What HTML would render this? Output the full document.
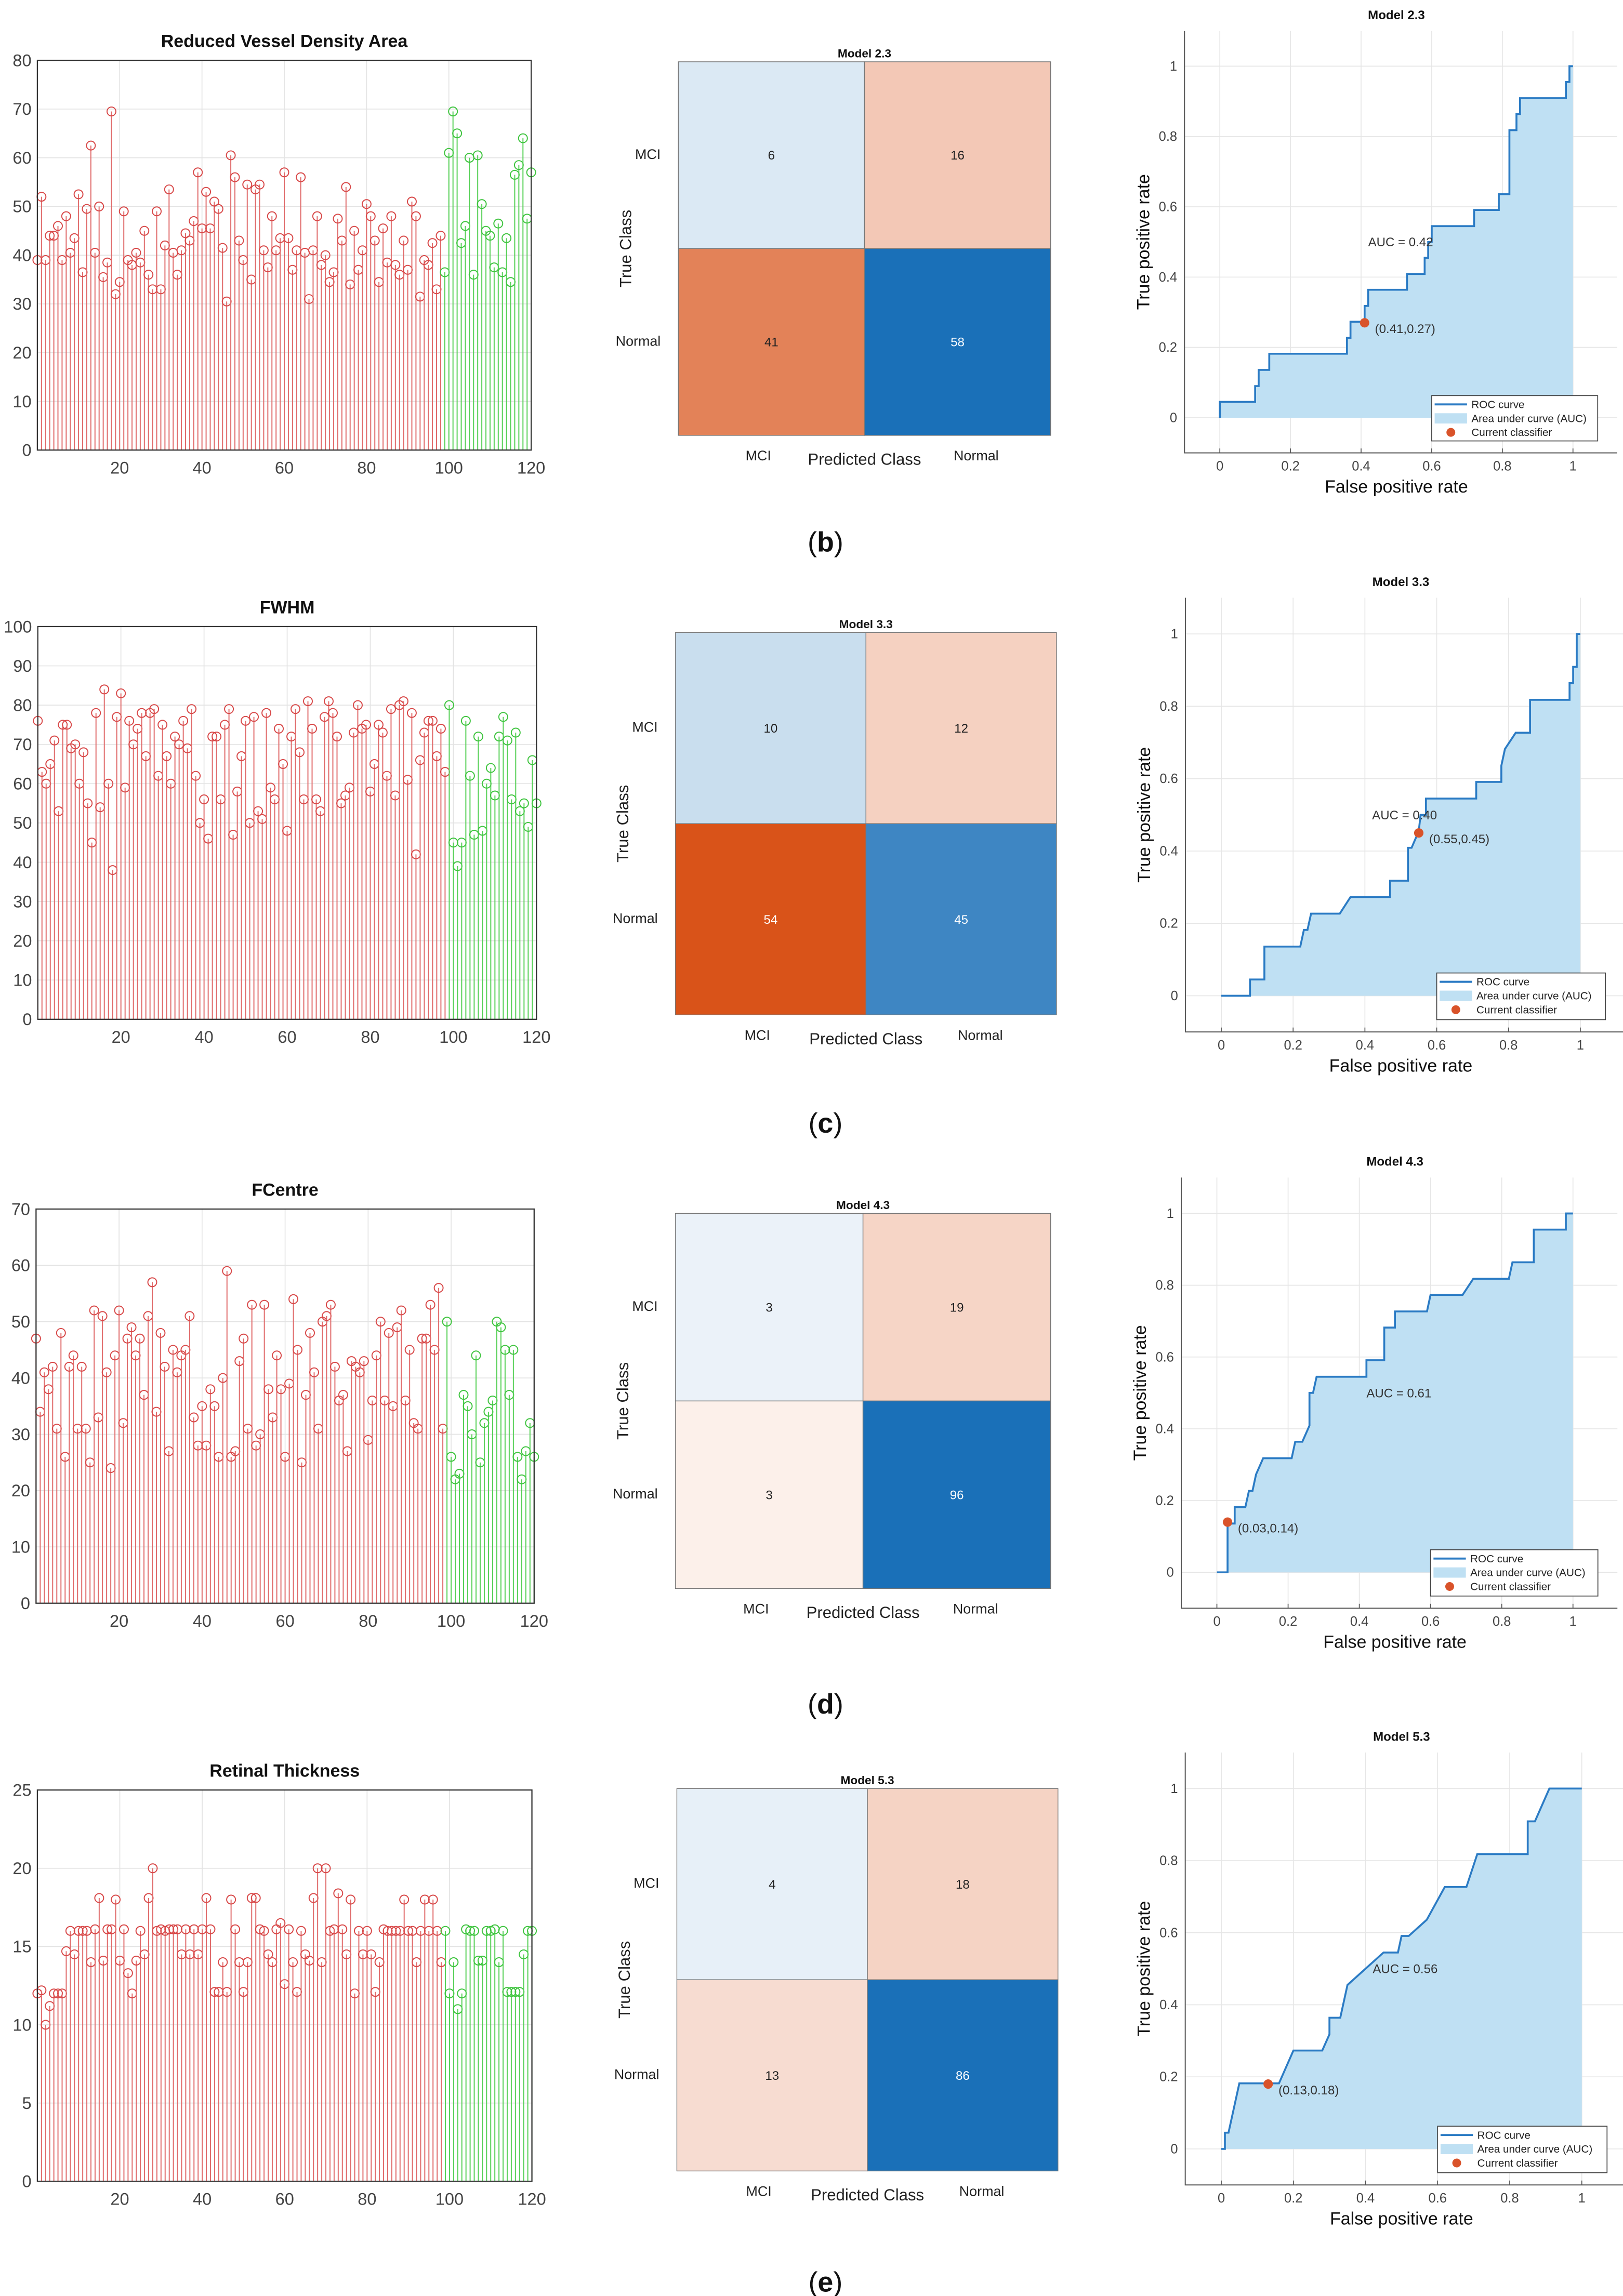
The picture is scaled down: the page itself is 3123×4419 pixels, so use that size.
<!DOCTYPE html>
<html><head><meta charset="utf-8"><title>Stem plots, confusion matrices and ROC curves</title>
<style>
html,body{margin:0;padding:0;background:#fff;}
svg{display:block;}
text{font-family:"Liberation Sans",Arial,sans-serif;}
</style></head>
<body>
<svg id="fig" xmlns="http://www.w3.org/2000/svg" width="3123" height="4419" viewBox="0 0 1103 1561" preserveAspectRatio="none">
<rect x="0" y="0" width="1103" height="1561" fill="#ffffff"/>
</svg>
<script>
// ---------- DATA ----------
const stemTitles = ["Reduced Vessel Density Area","FWHM","FCentre","Retinal Thickness"];
const stemYMax = [80,100,70,25];
const stemYStep = [10,10,10,5];
const stemXTicks = [20,40,60,80,100,120];
const redCount = 99;
const vesselValues = [39,52,39,44,44,46,39,48,40.5,43.5,52.5,36.5,49.5,62.5,40.5,50,35.5,38.5,69.5,32,34.5,49,39,38,40.5,38.5,45,36,33,49,33,42,53.5,40.5,36,41,44.5,43,47,57,45.5,53,45.5,51,49.5,41.5,30.5,60.5,56,43,39,54.5,35,53.5,54.5,41,37.5,48,41,43.5,57,43.5,37,41,56,40.5,31,41,48,38,40,34.5,36.5,47.5,43,54,34,45,37,41,50.5,48,43,34.5,45.5,38.5,48,38,36,43,37,51,48,31.5,39,38,42.5,33,44,
36.5,61,69.5,65,42.5,46,60,36,60.5,50.5,45,44,37.5,46.5,36.5,43.5,34.5,56.5,58.5,64,47.5,57];
const fwhmValues = [76,63,60,65,71,53,75,75,69,70,60,68,55,45,78,54,84,60,38,77,83,59,76,70,74,78,67,78,79,62,75,67,60,72,70,76,69,79,62,50,56,46,72,72,56,75,79,47,58,67,76,50,77,53,51,78,59,56,74,65,48,72,79,68,56,81,74,56,53,77,81,78,72,55,57,59,73,80,74,75,58,65,75,73,62,79,57,80,81,61,78,42,66,73,76,76,67,74,63,
80,45,39,45,76,62,47,72,48,60,64,57,72,77,71,56,73,53,55,49,66,55];
const fcentreValues = [47,34,41,38,42,31,48,26,42,44,31,42,31,25,52,33,51,41,24,44,52,32,47,49,44,47,37,51,57,34,48,42,27,45,41,44,45,51,33,28,35,28,38,35,26,40,59,26,27,43,47,31,53,28,30,53,38,33,44,38,26,39,54,45,25,37,48,41,31,50,51,53,42,36,37,27,43,42,41,43,29,36,44,50,36,48,35,49,52,36,45,32,31,47,47,53,45,56,31,
50,26,22,23,37,35,30,44,25,32,34,36,50,49,45,37,45,26,22,27,32,26];
const thicknessValues = [12,12.2,10,11.2,12,12,12,14.7,16,14.5,16,16,16,14,16.1,18.1,14.1,16.1,16.1,18,14.1,16.1,13.3,12,14.1,16,14.5,18.1,20,16,16.1,16,16.1,16.1,16.1,14.5,16.1,14.5,16.1,14.5,16.1,18.1,16.1,12.1,12.1,14,12.1,18,16.1,14,12.1,14,18.1,18.1,16.1,16,14.5,14,16.1,16.5,12.6,16.1,14,12.1,16,14.5,14.1,18.1,20,14,20,16,16.1,18.4,16.1,14.5,18,12,16,14.5,16,14.5,12.1,14,16.1,16,16,16,16,18,16,16,14,16,18,16,18,16,14,
16,12,14,11,12,16.1,16,16,14.1,14.1,16,16,16.1,14,16,12.1,12.1,12.1,12.1,14.5,16,16];

const cmTitles = ["Model 2.3","Model 3.3","Model 4.3","Model 5.3"];
const cmClassNames = ["MCI","Normal"];
const cmCounts = [[6,16,41,58],[10,12,54,45],[3,19,3,96],[4,18,13,86]];

const rocTitles = ["Model 2.3","Model 3.3","Model 4.3","Model 5.3"];
const rocAuc = ["0.42","0.40","0.61","0.56"];
const rocTicks = [0,0.2,0.4,0.6,0.8,1];
const rocFpr1 = [0,0,0.1,0.1,0.11,0.11,0.14,0.14,0.36,0.36,0.37,0.37,0.41,0.41,0.42,0.42,0.53,0.53,0.58,0.58,0.59,0.59,0.6,0.6,0.72,0.72,0.79,0.79,0.82,0.82,0.84,0.84,0.85,0.85,0.98,0.98,0.99,0.99,1];
const rocTpr1 = [0,0.045,0.045,0.09,0.09,0.136,0.136,0.182,0.182,0.227,0.227,0.273,0.273,0.318,0.318,0.364,0.364,0.409,0.409,0.455,0.455,0.5,0.5,0.545,0.545,0.591,0.591,0.636,0.636,0.818,0.818,0.864,0.864,0.909,0.909,0.955,0.955,1,1];
const rocFpr2 = [0,0.08,0.08,0.12,0.12,0.22,0.23,0.24,0.25,0.33,0.36,0.47,0.47,0.52,0.52,0.53,0.55,0.555,0.57,0.57,0.71,0.71,0.78,0.78,0.79,0.82,0.86,0.86,0.97,0.97,0.98,0.98,0.99,0.99,1];
const rocTpr2 = [0,0,0.045,0.045,0.136,0.136,0.182,0.182,0.227,0.227,0.273,0.273,0.318,0.318,0.409,0.409,0.455,0.5,0.5,0.545,0.545,0.591,0.591,0.636,0.682,0.727,0.727,0.818,0.818,0.864,0.864,0.909,0.909,1,1];
const rocFpr3 = [0,0.03,0.03,0.05,0.05,0.08,0.09,0.1,0.11,0.13,0.21,0.22,0.24,0.26,0.26,0.27,0.28,0.42,0.42,0.47,0.47,0.5,0.5,0.59,0.6,0.69,0.72,0.82,0.83,0.89,0.89,0.98,0.98,1];
const rocTpr3 = [0,0,0.136,0.136,0.182,0.182,0.227,0.227,0.273,0.318,0.318,0.364,0.364,0.409,0.5,0.5,0.545,0.545,0.591,0.591,0.682,0.682,0.727,0.727,0.773,0.773,0.818,0.818,0.864,0.864,0.955,0.955,1,1];
const rocFpr4 = [0,0.01,0.01,0.02,0.05,0.16,0.2,0.28,0.3,0.3,0.33,0.35,0.4,0.45,0.49,0.5,0.52,0.57,0.62,0.68,0.71,0.85,0.85,0.87,0.91,1];
const rocTpr4 = [0,0,0.045,0.045,0.182,0.182,0.273,0.273,0.318,0.364,0.364,0.455,0.5,0.545,0.545,0.591,0.591,0.636,0.727,0.727,0.818,0.818,0.909,0.909,1,1];
const rocOpX = [0.41,0.55,0.03,0.13];
const rocOpY = [0.27,0.45,0.14,0.18];
const panelLetters = ["b","c","d","e"];

// ---------- LAYOUT (pixel geometry, not data) ----------
const stemBox = [[25.4,361,41,306],[25.7,364.6,426,693],[24.5,363,822,1090],[25.4,361.5,1217,1483]];
const cmBox = [[461,714,42,296],[459,718,430,690],[459,714,825,1080],[460,719,1216,1476]];
const rocBox = [[829,1069,284,45],[830,1074,677,431],[827,1069,1069,825],[830,1075,1461,1216]];
const letterY = [375,770,1165,1558];

const NS="http://www.w3.org/2000/svg";
const svg=document.getElementById('fig');
function mk(tag,attrs,parent,txt){const e=document.createElementNS(NS,tag);for(const k in attrs)e.setAttribute(k,attrs[k]);if(txt!==undefined)e.textContent=txt;(parent||svg).appendChild(e);return e;}

// ---------- STEM PLOTS ----------
const stemSeries=[vesselValues,fwhmValues,fcentreValues,thicknessValues];
stemSeries.forEach((vals,p)=>{
  const [L,R,T,B]=stemBox[p];
  const ymax=stemYMax[p], n=vals.length;
  const xs=i=>L+i*(R-L)/120;
  const ys=v=>B-(v/ymax)*(B-T);
  const g=mk('g',{});
  
  
  // grid
  for(let v=0;v<=ymax;v+=stemYStep[p]){
    const gl=mk('line',{x1:L,x2:R,y1:ys(v),y2:ys(v),stroke:'#e3e3e3','stroke-width':0.6},g);
    
    
    const t=mk('text',{x:L-4,y:ys(v)+4,'font-size':11.5,'text-anchor':'end',fill:'#444'},g,String(v));
    
    
  }
  stemXTicks.forEach(v=>{
    const gl=mk('line',{x1:xs(v),x2:xs(v),y1:T,y2:B,stroke:'#e3e3e3','stroke-width':0.6},g);
    
    
    const t=mk('text',{x:xs(v),y:B+16,'font-size':11.5,'text-anchor':'middle',fill:'#444'},g,String(v));
    
    
  });
  // stems
  for(let i=0;i<n;i++){
    const red=i<redCount;
    const col=red?'#e06a6a':'#55d055';
    const ln=mk('line',{x1:xs(i),x2:xs(i),y1:B,y2:ys(vals[i]),stroke:col,'stroke-width':0.7},g);
    
    
    const c=mk('circle',{cx:xs(i),cy:ys(vals[i]),r:3,fill:'none',stroke:red?'#d84848':'#3ec43e','stroke-width':0.7},g);
    
    
  }
  const bx=mk('rect',{x:L,y:T,width:R-L,height:B-T,fill:'none',stroke:'#333','stroke-width':0.8},g);
  
  
  const tt=mk('text',{x:(L+R)/2,y:T-9,'font-size':12,'font-weight':'bold','text-anchor':'middle',fill:'#111'},g,stemTitles[p]);
  
  
});

// ---------- CONFUSION MATRICES ----------
function cellColor(v,max,diag){
  const f=0.06+0.94*(v/max);
  const base=diag?[26,112,184]:[217,83,25];
  const c=base.map(b=>Math.round(255-(255-b)*f));
  return {fill:'rgb('+c.join(',')+')',light:f>0.8};
}
cmCounts.forEach((cnt,p)=>{
  const [L,R,T,B]=cmBox[p];
  const g=mk('g',{});
  
  
  const max=Math.max(...cnt);
  const w=(R-L)/2,h=(B-T)/2;
  cnt.forEach((v,k)=>{
    const r=Math.floor(k/2),c=k%2;
    const col=cellColor(v,max,r===c);
    const rc=mk('rect',{x:L+c*w,y:T+r*h,width:w,height:h,fill:col.fill,stroke:'#777','stroke-width':0.5},g);
    
    
    const t=mk('text',{x:L+c*w+w/2,y:T+r*h+h/2+3,'font-size':8.5,'text-anchor':'middle',fill:col.light?'#fff':'#222'},g,String(v));
    
    
  });
  const ti=mk('text',{x:(L+R)/2,y:T-3,'font-size':8,'font-weight':'bold','text-anchor':'middle',fill:'#111'},g,cmTitles[p]);
  
  
  cmClassNames.forEach((nm,k)=>{
    const a=mk('text',{x:L-12,y:T+k*h+h*0.52,'font-size':9.5,'text-anchor':'end',fill:'#222'},g,nm);
    
    
    const b=mk('text',{x:k===0?L+w*0.43:L+w*1.6,y:B+17,'font-size':9.5,'text-anchor':'middle',fill:'#222'},g,nm);
    
    
  });
  const yl=mk('text',{x:0,y:0,'font-size':11,'text-anchor':'middle',fill:'#222',transform:'translate('+(L-32)+','+((T+B)/2)+') rotate(-90)'},g,'True Class');
  
  
  const xl=mk('text',{x:(L+R)/2,y:B+20,'font-size':11,'text-anchor':'middle',fill:'#222'},g,'Predicted Class');
  
  
});

// ---------- ROC CURVES ----------
const rocF=[rocFpr1,rocFpr2,rocFpr3,rocFpr4], rocT=[rocTpr1,rocTpr2,rocTpr3,rocTpr4];
rocF.forEach((fpr,p)=>{
  const tpr=rocT[p];
  const [x0,x1,y0,y1]=rocBox[p];
  const X=v=>x0+v*(x1-x0), Y=v=>y0-v*(y0-y1);
  const g=mk('g',{});
  
  
  const AL=X(-0.1),AR=X(1.1)+6,AB=Y(-0.1),AT=Y(1.1);
  rocTicks.forEach(v=>{
    const a=mk('line',{x1:AL,x2:AR,y1:Y(v),y2:Y(v),stroke:'#e6e6e6','stroke-width':0.6},g);
    
    
    const b=mk('line',{x1:X(v),x2:X(v),y1:AT,y2:AB,stroke:'#e6e6e6','stroke-width':0.6},g);
    
    
    const tk=mk('line',{x1:X(v),x2:X(v),y1:AB,y2:AB-3,stroke:'#555','stroke-width':0.6},g);
    
    
    const lab=String(v);
    const t1=mk('text',{x:X(v),y:AB+12,'font-size':9,'text-anchor':'middle',fill:'#444'},g,lab);
    
    
    const t2=mk('text',{x:AL-5,y:Y(v)+3,'font-size':9,'text-anchor':'end',fill:'#444'},g,lab);
    
    
  });
  let pts=fpr.map((f,i)=>X(f)+','+Y(tpr[i])).join(' ');
  const area=mk('polygon',{points:pts+' '+X(1)+','+Y(0)+' '+X(0)+','+Y(0),fill:'#bfe0f3',stroke:'none'},g);
  
  
  const line=mk('polyline',{points:pts,fill:'none',stroke:'#2b7bc4','stroke-width':1.3},g);
  
  
  const ax=mk('path',{d:'M'+AL+' '+AT+' V'+AB+' H'+AR,fill:'none',stroke:'#555','stroke-width':0.7},g);
  
  
  const op=mk('circle',{cx:X(rocOpX[p]),cy:Y(rocOpY[p]),r:3.2,fill:'#d9532a'},g);
  
  
  const opl=mk('text',{x:X(rocOpX[p])+7,y:Y(rocOpY[p])+7,'font-size':8.5,fill:'#333'},g,'('+rocOpX[p].toFixed(2)+','+rocOpY[p].toFixed(2)+')');
  
  
  const auc=mk('text',{x:X(0.42),y:Y(0.5)+3,'font-size':8.5,fill:'#333'},g,'AUC = '+rocAuc[p]);
  
  
  const tt=mk('text',{x:X(0.5),y:AT-8,'font-size':8.5,'font-weight':'bold','text-anchor':'middle',fill:'#111'},g,rocTitles[p]);
  
  
  const xl=mk('text',{x:X(0.5),y:AB+27,'font-size':12,'text-anchor':'middle',fill:'#111'},g,'False positive rate');
  
  
  const yl=mk('text',{x:0,y:0,'font-size':12,'text-anchor':'middle',fill:'#111',transform:'translate('+(AL-24)+','+Y(0.5)+') rotate(-90)'},g,'True positive rate');
  
  
  // legend
  const lx=X(0.6), ly=Y(0.063), lw=(x1-x0)*0.47, lh=Y(-0.066)-ly;
  const lg=mk('g',{},g);
  
  
  mk('rect',{x:lx,y:ly,width:lw,height:lh,fill:'#fff',stroke:'#444','stroke-width':0.6},lg);
  const e1=mk('line',{x1:lx+2,x2:lx+24,y1:ly+6,y2:ly+6,stroke:'#2b7bc4','stroke-width':1.4},lg);
  
  
  const e2=mk('rect',{x:lx+2,y:ly+12,width:22,height:7,fill:'#bfe0f3'},lg);
  
  
  const e3=mk('circle',{cx:lx+13,cy:ly+25,r:3,fill:'#d9532a'},lg);
  
  
  ['ROC curve','Area under curve (AUC)','Current classifier'].forEach((s,k)=>{
    const t=mk('text',{x:lx+27,y:ly+8.5+k*9.5,'font-size':7.3,fill:'#222'},lg,s);
    
    
  });
});

// ---------- PANEL LETTERS ----------
panelLetters.forEach((l,p)=>{
  const t=mk('text',{x:561,y:letterY[p],'font-size':19,'text-anchor':'middle',fill:'#111','font-family':'"Liberation Serif",serif'});
  
  
  mk('tspan',{},t,'(');
  mk('tspan',{'font-weight':'bold'},t,l);
  mk('tspan',{},t,')');
});
</script>
</body></html>
